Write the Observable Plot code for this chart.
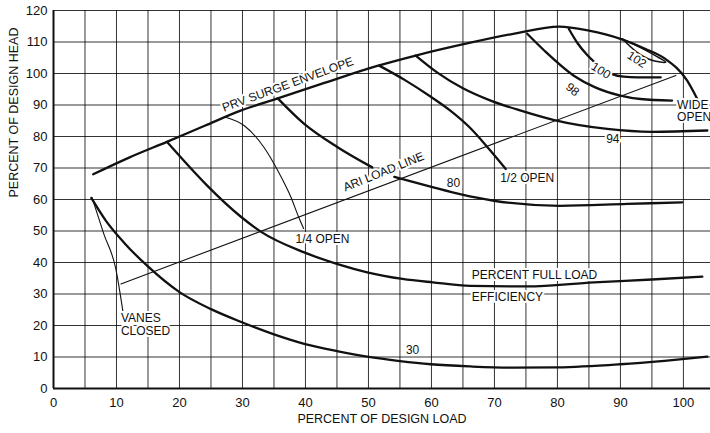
<!DOCTYPE html>
<html><head><meta charset="utf-8">
<script src="https://cdn.jsdelivr.net/npm/d3@7"></script>
<script src="https://cdn.jsdelivr.net/npm/@observablehq/plot@0.6"></script>
<style>body{margin:0;background:#fff;} svg{display:block;}</style>
</head><body><div id="chart"></div>
<script>
// Axis ticks
const xTicks = [0, 10, 20, 30, 40, 50, 60, 70, 80, 90, 100];
const yTicks = [0, 10, 20, 30, 40, 50, 60, 70, 80, 90, 100, 110, 120];
const xGrid = [5, 10, 15, 20, 25, 30, 35, 40, 45, 50, 55, 60, 65, 70, 75, 80, 85, 90, 95, 100];
const yGrid = [10, 20, 30, 40, 50, 60, 70, 80, 90, 100, 110, 120];

// PRV surge envelope (thick, ends as the WIDE OPEN curve)
const surgeLoad = [6.3, 12, 18, 24, 29.7, 35.6, 43, 51.4, 57.5, 66, 73, 80.3, 85, 90, 94, 97, 100.6, 102.2];
const surgeHead = [68, 73.3, 78.3, 83.4, 88.2, 92.1, 97, 102.4, 105.7, 109.7, 112.6, 114.9, 113.6, 111, 107.8, 104.8, 97.7, 91.9];

// Percent full load curve from envelope (thick)
const fullLoadLoad = [18, 20.2, 24.4, 29.7, 32.9, 39.8, 45.1, 49.8, 55.4, 60.2, 66.2, 75.2, 85.8, 95, 103];
const fullLoadHead = [78.3, 73.4, 64.4, 54.6, 49.8, 43.2, 39.5, 36.9, 34.8, 33.7, 32.6, 32.4, 33.7, 34.6, 35.5];

// "80" curve, upper part and lower part (gap at the ARI label)
const c80aLoad = [35.6, 39.8, 45.1, 50.6];
const c80aHead = [92.1, 84, 76.6, 70.2];
const c80bLoad = [54.1, 60, 64.7, 69.9, 80.4, 91.1, 99.8];
const c80bHead = [67.2, 64.0, 61.6, 59.6, 58, 58.6, 59.1];

// 1/2 OPEN curve
const halfLoad = [51.7, 55.8, 59.9, 63, 66.2, 68.9, 71.8];
const halfHead = [102.5, 97.9, 92.6, 88.2, 82.6, 76.6, 69.7];

// "94" curve
const c94Load = [57.5, 61, 65, 69.5, 74.2, 79.5, 87.9, 95, 103.8];
const c94Head = [105.7, 100.2, 95.3, 91.3, 88.2, 85.2, 82.4, 81.5, 81.9];

// "98" curve
const c98Load = [75.2, 77.9, 82.6, 86, 90, 93.2, 98.2];
const c98Head = [112.6, 107.3, 99.3, 95.6, 93, 91.9, 91.4];

// "100" curve
const c100Load = [81.8, 83.2, 84.8, 86.8, 88.7, 90.5, 92.7, 96.4];
const c100Head = [114.2, 109.6, 105.7, 102.1, 99.8, 99, 98.8, 98.8];

// "102" island
const c102Load = [90.3, 93.2, 95.6, 97.2, 95, 92.6, 90.3];
const c102Head = [111, 108.2, 105.6, 103.6, 104.2, 106.8, 111];

// Efficiency "30" curve
const effLoad = [6, 8.3, 11.2, 14.9, 20, 25, 29.7, 35, 39.8, 45, 49.8, 55, 59.9, 66.2, 73, 80, 90, 97, 103.8];
const effHead = [60.5, 53.3, 46.3, 38.9, 30.6, 25.2, 21.2, 17.2, 14.2, 11.9, 10.1, 8.7, 7.7, 7, 6.6, 6.7, 7.7, 8.8, 10.1];

// Thin lines
const ariLoad = [10.7, 98.8];
const ariHead = [33.2, 99.4];
const quarterLoad = [27.2, 30.3, 33.4, 35.6, 37.7, 38.9, 39.7];
const quarterHead = [86.2, 83.4, 76.6, 69.2, 60.7, 54.5, 50.8];
const vanesLoad = [6.1, 8.0, 9.9, 11.0];
const vanesHead = [60.7, 49.0, 37.9, 24.7];

// Annotation labels
const labelTexts = ["PRV SURGE ENVELOPE", "ARI LOAD LINE", "80", "1/2 OPEN", "1/4 OPEN", "94", "98", "100", "102", "30"];
const labelLoads = [37.2, 52.4, 63.5, 75.2, 42.7, 88.8, 82.4, 86.9, 92.6, 57];
const labelHeads = [96.5, 68.8, 65.1, 66.8, 47.5, 79.3, 94.9, 100.9, 104.4, 12.1];
const labelAngles = [-20, -22, 0, 0, 0, 0, 40, 32, 32, 0];

const startTexts = ["WIDE", "OPEN", "PERCENT FULL LOAD", "EFFICIENCY", "VANES", "CLOSED"];
const startLoads = [99.0, 99.0, 66.4, 66.4, 10.7, 10.7];
const startHeads = [90.1, 86.0, 36.0, 28.9, 22.4, 18.3];

function table(name, xs, ys) { return xs.map((x, i) => ({series: name, load: x, head: ys[i]})); }

const thick = [
  ...table("surge", surgeLoad, surgeHead),
  ...table("full", fullLoadLoad, fullLoadHead),
  ...table("c80a", c80aLoad, c80aHead),
  ...table("c80b", c80bLoad, c80bHead),
  ...table("half", halfLoad, halfHead),
  ...table("c94", c94Load, c94Head),
  ...table("c98", c98Load, c98Head),
  ...table("c100", c100Load, c100Head),
  ...table("eff", effLoad, effHead)
];
const thin = [
  ...table("ari", ariLoad, ariHead),
  ...table("quarter", quarterLoad, quarterHead),
  ...table("vanes", vanesLoad, vanesHead)
];
const island = table("c102", c102Load, c102Head);
const labels = labelTexts.map((t, i) => ({t, load: labelLoads[i], head: labelHeads[i], r: labelAngles[i]}));
const startLabels = startTexts.map((t, i) => ({t, load: startLoads[i], head: startHeads[i]}));

const ink = "#111";
const chart = Plot.plot({
  width: 710, height: 433,
  marginLeft: 53, marginRight: 0, marginTop: 10, marginBottom: 45,
  style: {fontFamily: "'Liberation Sans', Arial, sans-serif", fontSize: "12px", color: ink, background: "#fff"},
  x: {domain: [0, 104.3]},
  y: {domain: [0, 120]},
  marks: [
    Plot.ruleX(xGrid, {stroke: "#000", strokeOpacity: 0.8, strokeWidth: 1}),
    Plot.ruleY(yGrid, {stroke: "#000", strokeOpacity: 0.8, strokeWidth: 1}),
    Plot.line(thin, {x: "load", y: "head", z: "series", stroke: ink, strokeWidth: 1.1, curve: "monotone-x"}),
    Plot.line(thick, {x: "load", y: "head", z: "series", stroke: ink, strokeWidth: 2.3, curve: "monotone-x"}),
    Plot.line(island, {x: "load", y: "head", stroke: ink, strokeWidth: 1.5, curve: "catmull-rom"}),
    Plot.text(labels, {x: "load", y: "head", text: "t", rotate: "r", fill: ink, fontSize: 12, stroke: "#fff", strokeWidth: 4, paintOrder: "stroke"}),
    Plot.text(startLabels, {x: "load", y: "head", text: "t", textAnchor: "start", fill: ink, fontSize: 12, stroke: "#fff", strokeWidth: 4, paintOrder: "stroke"}),
    Plot.ruleX([0], {stroke: ink, strokeWidth: 2}),
    Plot.ruleY([0], {stroke: ink, strokeWidth: 2}),
    Plot.axisX(xTicks, {tickSize: 0, tickPadding: 9, fontSize: 13, label: null}),
    Plot.axisY(yTicks, {tickSize: 0, tickPadding: 6, fontSize: 13, label: null}),
    Plot.text(["PERCENT OF DESIGN LOAD"], {frameAnchor: "bottom", dy: 34, fontSize: 12.5, fill: ink}),
    Plot.text(["PERCENT OF DESIGN HEAD"], {frameAnchor: "left", rotate: -90, dx: -40, dy: -2, fontSize: 12.5, fill: ink})
  ]
});
document.getElementById("chart").appendChild(chart);
</script>
</body></html>
